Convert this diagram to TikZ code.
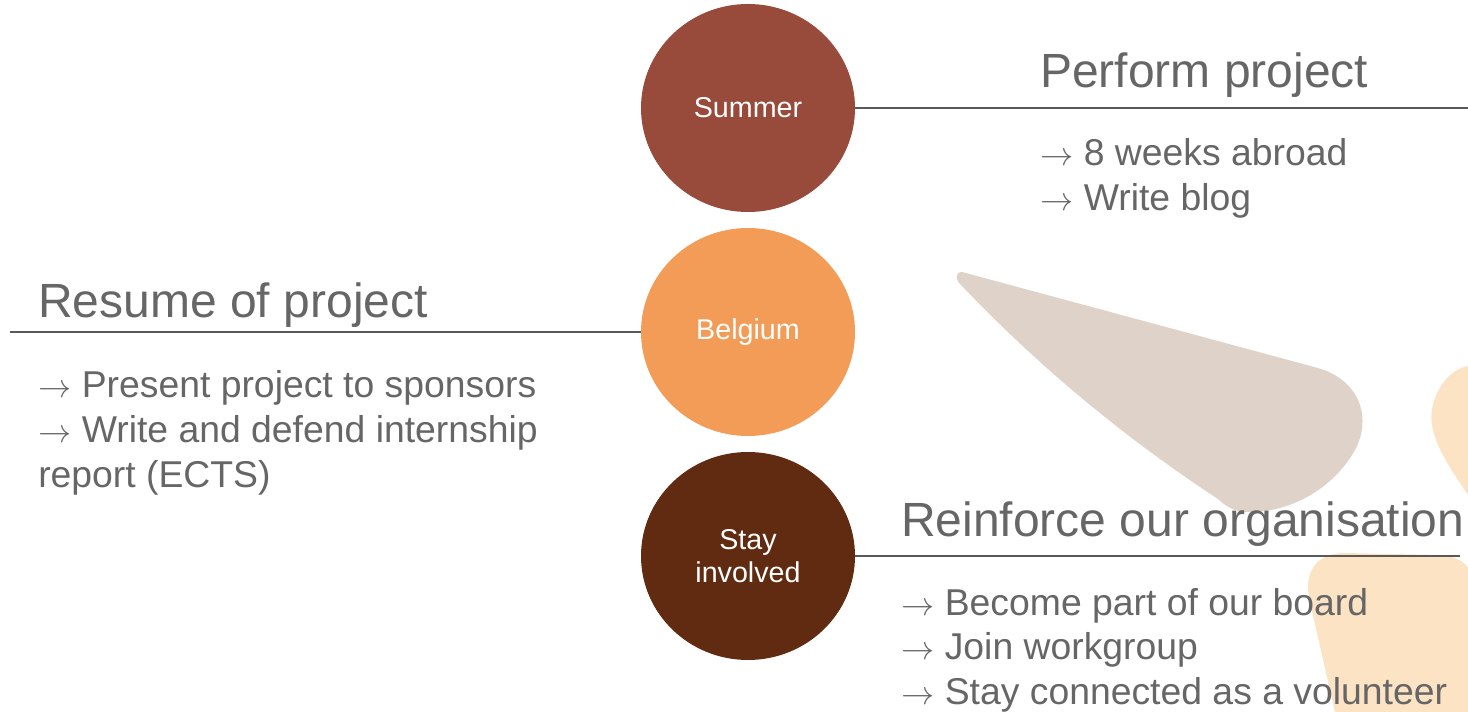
\documentclass[tikz,border=0pt]{standalone}
\usepackage{fontspec}
\setmainfont{Liberation Sans}
\usetikzlibrary{shapes.geometric}

\definecolor{summerred}{RGB}{152,74,59}
\definecolor{belgiumorange}{RGB}{243,156,88}
\definecolor{staybrown}{RGB}{96,43,16}
\definecolor{petalgrey}{RGB}{223,210,200}
\definecolor{petalpeach}{RGB}{251,227,196}
\definecolor{textgrey}{RGB}{102,102,102}
\definecolor{linegrey}{RGB}{89,89,89}

\tikzset{
  stage/.style={ellipse, minimum width=160.5pt, minimum height=156pt, inner sep=0pt, text=white, align=center, font=\fontsize{21.5}{25}\selectfont},
  heading/.style={anchor=base west, inner sep=0pt, text=textgrey, font=\fontsize{36}{43}\selectfont},
  bulletline/.style={anchor=base west, inner sep=0pt, text=textgrey, font=\fontsize{28}{33}\selectfont},
  rule/.style={draw=linegrey, line width=1.5pt}
}

\begin{document}
\begin{tikzpicture}[x=0.75pt,y=0.75pt,yscale=-1,xscale=1]
\useasboundingbox (0,0) rectangle (1468,712);

%Shape: grey petal
\fill [petalgrey] (962,272) -- (1318,368) .. controls (1365,382) and (1372,425) .. (1352,455) .. controls (1330,490) and (1290,512) .. (1250,512) .. controls (1235,512) and (1228,508) .. (1218,499) .. controls (1125,438) and (1039,367) .. (961,285) .. controls (955,280) and (955,272) .. (962,272) -- cycle ;
%Shape: peach petal right
\fill [petalpeach] (1468,366) .. controls (1445,370) and (1428,400) .. (1432,425) .. controls (1436,450) and (1455,475) .. (1468,495) -- cycle ;
%Shape: peach petal bottom
\fill [petalpeach] (1335,712) -- (1309,598) .. controls (1304,570) and (1318,553) .. (1345,553) -- (1440,555) .. controls (1455,556) and (1465,562) .. (1468,568) -- (1468,712) -- cycle ;

%Stages
\node [stage, fill=summerred] (summer) at (748,108) {Summer};
\node [stage, fill=belgiumorange] (belgium) at (748,332) {Belgium};
\node [stage, fill=staybrown] (stay) at (748,556) {Stay\\involved};

%Rules
\coordinate (summerend) at (1468,108);
\coordinate (belgiumend) at (10,332);
\coordinate (stayend) at (1460,556);
\draw [rule] (summer.east) -- (summerend);
\draw [rule] (belgium.west) -- (belgiumend);
\draw [rule] (stay.east) -- (stayend);

% Text Node
\draw (1040,88) node [heading] (perform) {Perform project};
\draw (1040,166) node [bulletline] (perform1) {$\rightarrow$ 8 weeks abroad};
\draw (1040,211) node [bulletline] (perform2) {$\rightarrow$ Write blog};
% Text Node
\draw (38,318) node [heading] (resume) {Resume of project};
\draw (38,398) node [bulletline] (resume1) {$\rightarrow$ Present project to sponsors};
\draw (38,443) node [bulletline] (resume2) {$\rightarrow$ Write and defend internship};
\draw (38,488) node [bulletline] (resume3) {report (ECTS)};
% Text Node
\draw (901,537) node [heading] (reinforce) {Reinforce our organisation};
\draw (901,616) node [bulletline] (reinforce1) {$\rightarrow$ Become part of our board};
\draw (901,660) node [bulletline] (reinforce2) {$\rightarrow$ Join workgroup};
\draw (901,704) node [bulletline] (reinforce3) {$\rightarrow$ Stay connected as a volunteer};

\end{tikzpicture}
\end{document}
